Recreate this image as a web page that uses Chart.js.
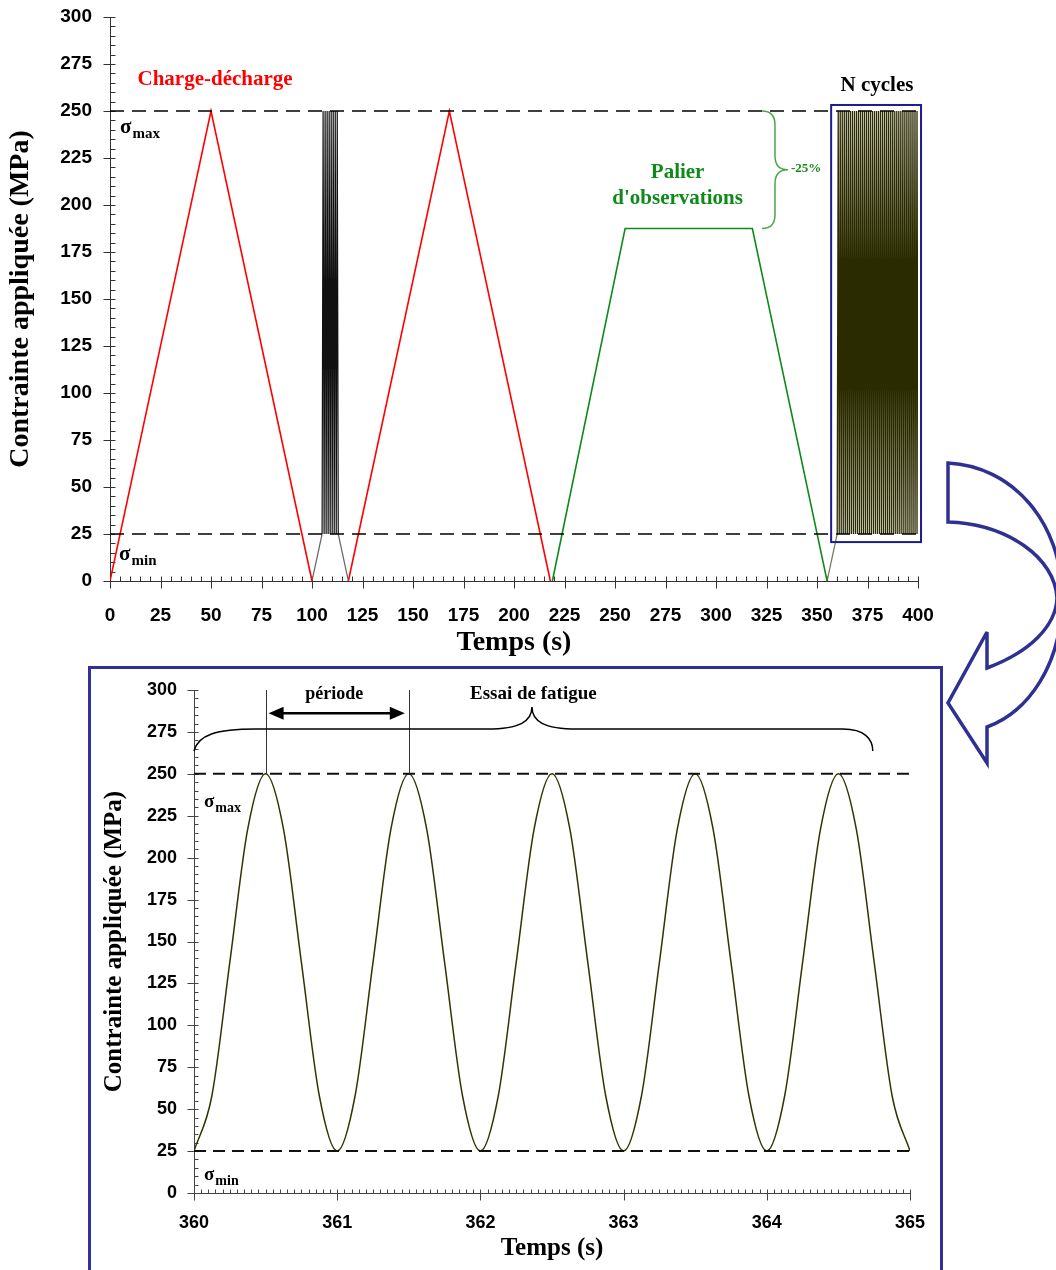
<!DOCTYPE html>
<html>
<head>
<meta charset="utf-8">
<script src="https://cdn.jsdelivr.net/npm/chart.js@4.4.0/dist/chart.umd.min.js"></script>
<style>
  html, body { margin: 0; padding: 0; background: #fff; }
  body { width: 1056px; height: 1270px; position: relative; overflow: hidden; }
  #topChart { position: absolute; left: 0; top: 0; }
  #frame { position: absolute; left: 88px; top: 666px; width: 855px; height: 640px;
           border: 3px solid #30309a; box-sizing: border-box; }
  #zoomChart { position: absolute; left: 91px; top: 669px; }
  #bigArrow { position: absolute; left: 0; top: 0; pointer-events: none; }
</style>
</head>
<body>
<canvas id="topChart" width="1056" height="665"></canvas>
<div id="frame"></div>
<canvas id="zoomChart" width="849" height="601"></canvas>
<svg id="bigArrow" width="1056" height="1270">
  <path d="M948,463 C1012,466 1062,522 1062,597 C1062,665 1028,712 987,727 L987,763 L948,703 L987,632 L987,668 C1030,652 1056,626 1057,598 C1055,558 1008,524 948,522 Z"
        fill="none" stroke="#2e3192" stroke-width="3.5" stroke-linejoin="miter"/>
</svg>

<script>
// ---- top chart data (time in s, stress in MPa) ----
const sigmaMax = 250;
const sigmaMin = 25;

const charge1T = [0, 50, 100];
const charge1S = [0, 250, 0];
const rampInT = [100, 105];
const rampInS = [0, 25];
const burstT = [105, 105.5, 106, 106.5, 107, 107.5, 108, 108.5, 109, 109.5, 110, 110.5, 111, 111.5, 112, 112.5, 113];
const burstS = [25, 250, 25, 250, 25, 250, 25, 250, 25, 250, 25, 250, 25, 250, 25, 250, 25];
const rampOutT = [113, 118];
const rampOutS = [25, 0];
const charge2T = [118, 168, 218];
const charge2S = [0, 250, 0];
const palierT = [219, 255, 318, 355];
const palierS = [0, 187.5, 187.5, 0];
const cyclesRampT = [355, 360];
const cyclesRampS = [0, 25];
const cyclesT = [
  360, 360.5, 361, 361.5, 362, 362.5, 363, 363.5, 364, 364.5,
  365, 365.5, 366, 366.5, 367, 367.5, 368, 368.5, 369, 369.5,
  370, 370.5, 371, 371.5, 372, 372.5, 373, 373.5, 374, 374.5,
  375, 375.5, 376, 376.5, 377, 377.5, 378, 378.5, 379, 379.5,
  380, 380.5, 381, 381.5, 382, 382.5, 383, 383.5, 384, 384.5,
  385, 385.5, 386, 386.5, 387, 387.5, 388, 388.5, 389, 389.5,
  390, 390.5, 391, 391.5, 392, 392.5, 393, 393.5, 394, 394.5,
  395, 395.5, 396, 396.5, 397, 397.5, 398, 398.5, 399, 399.5, 400
];
const cyclesS = [
  25, 250, 25, 250, 25, 250, 25, 250, 25, 250,
  25, 250, 25, 250, 25, 250, 25, 250, 25, 250,
  25, 250, 25, 250, 25, 250, 25, 250, 25, 250,
  25, 250, 25, 250, 25, 250, 25, 250, 25, 250,
  25, 250, 25, 250, 25, 250, 25, 250, 25, 250,
  25, 250, 25, 250, 25, 250, 25, 250, 25, 250,
  25, 250, 25, 250, 25, 250, 25, 250, 25, 250,
  25, 250, 25, 250, 25, 250, 25, 250, 25, 250, 25
];

// ---- zoomed chart data (360 s to 365 s) ----
const fatigueT = [
  360, 360.125, 360.25, 360.375, 360.5, 360.625, 360.75, 360.875,
  361, 361.125, 361.25, 361.375, 361.5, 361.625, 361.75, 361.875,
  362, 362.125, 362.25, 362.375, 362.5, 362.625, 362.75, 362.875,
  363, 363.125, 363.25, 363.375, 363.5, 363.625, 363.75, 363.875,
  364, 364.125, 364.25, 364.375, 364.5, 364.625, 364.75, 364.875, 365
];
const fatigueS = [
  25, 58, 137.5, 217, 250, 217, 137.5, 58,
  25, 58, 137.5, 217, 250, 217, 137.5, 58,
  25, 58, 137.5, 217, 250, 217, 137.5, 58,
  25, 58, 137.5, 217, 250, 217, 137.5, 58,
  25, 58, 137.5, 217, 250, 217, 137.5, 58, 25
];

// ---- texts ----
const yTitle = 'Contrainte appliquée (MPa)';
const xTitle = 'Temps (s)';
const labelCharge = 'Charge-décharge';
const labelPalier = ['Palier', "d'observations"];
const labelDrop = '-25%';
const labelCycles = 'N cycles';
const labelPeriode = 'période';
const labelEssai = 'Essai de fatigue';

const SERIF = '"Liberation Serif", "Times New Roman", serif';
const SANS = '"Liberation Sans", Arial, sans-serif';

function pts(t, s) {
    return t.map((v, i) => ({ x: v, y: s[i] }));
}

function line(data, color, width, extra) {
    return Object.assign({
        data: data,
        borderColor: color,
        borderWidth: width,
        pointRadius: 0,
        fill: false,
        tension: 0
    }, extra || {});
}

// draws axis lines plus major and minor tick marks from the scales
const axisTicks = {
    id: 'axisTicks',
    beforeDatasetsDraw(chart, args, o) {
        const { ctx, chartArea: a, scales: { x, y } } = chart;
        const isMajor = (v, step) => Math.abs(v / step - Math.round(v / step)) < 1e-6;
        ctx.save();
        ctx.strokeStyle = o.color;
        ctx.lineWidth = 1;
        ctx.beginPath();
        const left = Math.round(a.left) + 0.5;
        const bottom = Math.round(a.bottom) + 0.5;
        ctx.moveTo(left, a.top);
        ctx.lineTo(left, bottom);
        ctx.lineTo(a.right, bottom);
        const ny = Math.round((y.max - y.min) / o.yMinor);
        for (let i = 0; i <= ny; i++) {
            const v = y.min + i * o.yMinor;
            const py = Math.round(y.getPixelForValue(v)) + 0.5;
            const major = isMajor(v, o.yMajor);
            ctx.moveTo(left - (major ? o.out : 0), py);
            ctx.lineTo(left + o.inside, py);
        }
        const nx = Math.round((x.max - x.min) / o.xMinor);
        for (let i = 0; i <= nx; i++) {
            const v = x.min + i * o.xMinor;
            const px = Math.round(x.getPixelForValue(v)) + 0.5;
            const major = isMajor(v - x.min, o.xMajor);
            ctx.moveTo(px, bottom + (major ? o.out : 0));
            ctx.lineTo(px, bottom - o.inside);
        }
        ctx.stroke();
        ctx.restore();
    }
};

function drawSigma(ctx, px, py, sub, big, small) {
    ctx.save();
    ctx.fillStyle = '#000';
    ctx.textAlign = 'left';
    ctx.textBaseline = 'alphabetic';
    ctx.font = 'bold ' + big + 'px ' + SERIF;
    ctx.fillText('σ', px, py);
    const w = ctx.measureText('σ').width;
    ctx.font = 'bold ' + small + 'px ' + SERIF;
    ctx.fillText(sub, px + w + 1, py + 5);
    ctx.restore();
}

const topNotes = {
    id: 'topNotes',
    afterDatasetsDraw(chart) {
        const { ctx, scales: { x, y } } = chart;
        const X = v => x.getPixelForValue(v);
        const Y = v => y.getPixelForValue(v);
        ctx.save();
        ctx.textAlign = 'center';
        ctx.textBaseline = 'middle';
        ctx.font = 'bold 21px ' + SERIF;
        ctx.fillStyle = '#ff0000';
        ctx.fillText(labelCharge, X(52), Y(266.5));
        ctx.fillStyle = '#0f8a1a';
        ctx.fillText(labelPalier[0], X(281), Y(217.5));
        ctx.fillText(labelPalier[1], X(281), Y(203.5));
        ctx.fillStyle = '#000';
        ctx.fillText(labelCycles, X(379.7), Y(263.5));

        // brace showing the 25 % drop
        const x0 = X(322.8), xs = X(329.2), xt = X(335.6);
        const yt = Y(sigmaMax), yb = Y(187.5), ym = (yt + yb) / 2, r = 14;
        ctx.strokeStyle = '#4aa54a';
        ctx.lineWidth = 1.5;
        ctx.beginPath();
        ctx.moveTo(x0, yt);
        ctx.quadraticCurveTo(xs, yt, xs, yt + r);
        ctx.lineTo(xs, ym - r);
        ctx.quadraticCurveTo(xs, ym, xt, ym);
        ctx.quadraticCurveTo(xs, ym, xs, ym + r);
        ctx.lineTo(xs, yb - r);
        ctx.quadraticCurveTo(xs, yb, x0, yb);
        ctx.stroke();
        ctx.font = 'bold 13px ' + SERIF;
        ctx.textAlign = 'left';
        ctx.fillStyle = '#1a8a1a';
        ctx.fillText(labelDrop, xt + 3, ym - 1);

        // box around the fatigue cycles
        ctx.strokeStyle = '#1c1c8c';
        ctx.lineWidth = 2;
        ctx.strokeRect(X(357), Y(253.2), X(401.5) - X(357), Y(20.7) - Y(253.2));
        ctx.restore();

        drawSigma(ctx, X(5), Y(238.3), 'max', 21, 15);
        drawSigma(ctx, X(4.5), Y(11), 'min', 21, 15);
    }
};

const zoomNotes = {
    id: 'zoomNotes',
    afterDatasetsDraw(chart) {
        const { ctx, scales: { x, y } } = chart;
        const X = v => x.getPixelForValue(v);
        const Y = v => y.getPixelForValue(v);
        ctx.save();
        // period markers
        ctx.strokeStyle = '#333';
        ctx.lineWidth = 1;
        ctx.beginPath();
        [360.5, 361.5].forEach(t => {
            const px = Math.round(X(t)) + 0.5;
            ctx.moveTo(px, Y(sigmaMax));
            ctx.lineTo(px, Y(300));
        });
        ctx.stroke();

        const ay = Y(286.2), a0 = X(360.5) + 3, a1 = X(361.5) - 4, hl = 15, hw = 6.5;
        ctx.strokeStyle = '#000';
        ctx.fillStyle = '#000';
        ctx.lineWidth = 2.5;
        ctx.beginPath();
        ctx.moveTo(a0 + hl - 2, ay);
        ctx.lineTo(a1 - hl + 2, ay);
        ctx.stroke();
        ctx.beginPath();
        ctx.moveTo(a0, ay); ctx.lineTo(a0 + hl, ay - hw); ctx.lineTo(a0 + hl, ay + hw); ctx.closePath();
        ctx.moveTo(a1, ay); ctx.lineTo(a1 - hl, ay - hw); ctx.lineTo(a1 - hl, ay + hw); ctx.closePath();
        ctx.fill();

        ctx.textAlign = 'center';
        ctx.textBaseline = 'middle';
        ctx.font = 'bold 18px ' + SERIF;
        ctx.fillText(labelPeriode, X(360.98), Y(297.6));
        ctx.font = 'bold 19px ' + SERIF;
        ctx.fillText(labelEssai, X(362.37), Y(297.6));

        // brace over the fatigue test
        const bl = X(360), br = X(364.74), bt = X(362.36);
        const yEnd = Y(263.6), yFlat = Y(276.7), yTip = Y(289.8);
        ctx.lineWidth = 1.5;
        ctx.beginPath();
        ctx.moveTo(bl, yEnd);
        ctx.bezierCurveTo(bl + 4, yFlat + 6, bl + 22, yFlat, bl + 62, yFlat);
        ctx.lineTo(bt - 45, yFlat);
        ctx.bezierCurveTo(bt - 12, yFlat, bt, yFlat - 8, bt, yTip);
        ctx.bezierCurveTo(bt, yFlat - 8, bt + 12, yFlat, bt + 45, yFlat);
        ctx.lineTo(br - 30, yFlat);
        ctx.bezierCurveTo(br - 8, yFlat, br, yFlat + 10, br, yEnd);
        ctx.stroke();
        ctx.restore();

        drawSigma(ctx, X(360.07), Y(230.5), 'max', 19, 14);
        drawSigma(ctx, X(360.07), Y(8), 'min', 19, 14);
    }
};

function scaleOptions(xMin, xMax, xStep, xPad, yPad, titlePx, tickPx, yWidth, xHeight, titlePadBottom) {
    const tickFont = { family: SANS, size: tickPx, weight: 'bold' };
    const titleFont = { family: SERIF, size: titlePx, weight: 'bold' };
    return {
        x: {
            type: 'linear',
            min: xMin,
            max: xMax,
            grid: { display: false },
            border: { display: false },
            ticks: { stepSize: xStep, color: '#000', font: tickFont, padding: xPad, autoSkip: false, maxRotation: 0 },
            title: { display: true, text: xTitle, color: '#000', font: titleFont, padding: { top: 0, bottom: titlePadBottom } },
            afterFit: s => { s.height = xHeight; s.paddingLeft = 0; s.paddingRight = 0; }
        },
        y: {
            min: 0,
            max: 300,
            grid: { display: false },
            border: { display: false },
            ticks: { stepSize: 25, color: '#000', font: tickFont, padding: yPad },
            title: { display: true, text: yTitle, color: '#000', font: titleFont, padding: { top: 4, bottom: 0 } },
            afterFit: s => { s.width = yWidth; s.paddingTop = 0; s.paddingBottom = 0; }
        }
    };
}

const dashTop = { borderDash: [14, 8] };

new Chart(document.getElementById('topChart'), {
    type: 'line',
    data: {
        datasets: [
            line(pts([0, 400], [sigmaMax, sigmaMax]), '#000', 1.4, dashTop),
            line(pts([0, 400], [sigmaMin, sigmaMin]), '#000', 1.4, dashTop),
            line(pts(charge1T, charge1S), '#ff0000', 1.6),
            line(pts(rampInT, rampInS), '#666', 1.2),
            line(pts(burstT, burstS), '#111', 1.2),
            line(pts(rampOutT, rampOutS), '#666', 1.2),
            line(pts(charge2T, charge2S), '#ff0000', 1.6),
            line(pts(palierT, palierS), '#0f8a1a', 1.6),
            line(pts(cyclesRampT, cyclesRampS), '#77775a', 1.2),
            line(pts(cyclesT, cyclesS), '#2b2b00', 1.3)
        ]
    },
    options: {
        responsive: false,
        animation: false,
        events: [],
        layout: { padding: { left: 0, right: 138, top: 17, bottom: 0 } },
        plugins: {
            legend: { display: false },
            tooltip: { enabled: false },
            axisTicks: { color: '#333', yMajor: 25, yMinor: 5, xMajor: 25, xMinor: 5, out: 7, inside: 5 }
        },
        scales: scaleOptions(0, 400, 25, 15, 10, 28, 19, 110, 84, 5)
    },
    plugins: [axisTicks, topNotes]
});

const dashZoom = { borderDash: [12, 7] };

new Chart(document.getElementById('zoomChart'), {
    type: 'line',
    data: {
        datasets: [
            line(pts([360, 365], [sigmaMax, sigmaMax]), '#111', 2, dashZoom),
            line(pts([360, 365], [sigmaMin, sigmaMin]), '#111', 2, dashZoom),
            line(pts(fatigueT, fatigueS), '#333300', 1.5, { cubicInterpolationMode: 'monotone' })
        ]
    },
    options: {
        responsive: false,
        animation: false,
        events: [],
        layout: { padding: { left: 5, right: 30, top: 21, bottom: 0 } },
        plugins: {
            legend: { display: false },
            tooltip: { enabled: false },
            axisTicks: { color: '#444', yMajor: 25, yMinor: 5, xMajor: 1, xMinor: 0.05, out: 7, inside: 4 }
        },
        scales: scaleOptions(360, 365, 1, 11, 9, 25, 18, 98, 77, 6)
    },
    plugins: [axisTicks, zoomNotes]
});
</script>
</body>
</html>
